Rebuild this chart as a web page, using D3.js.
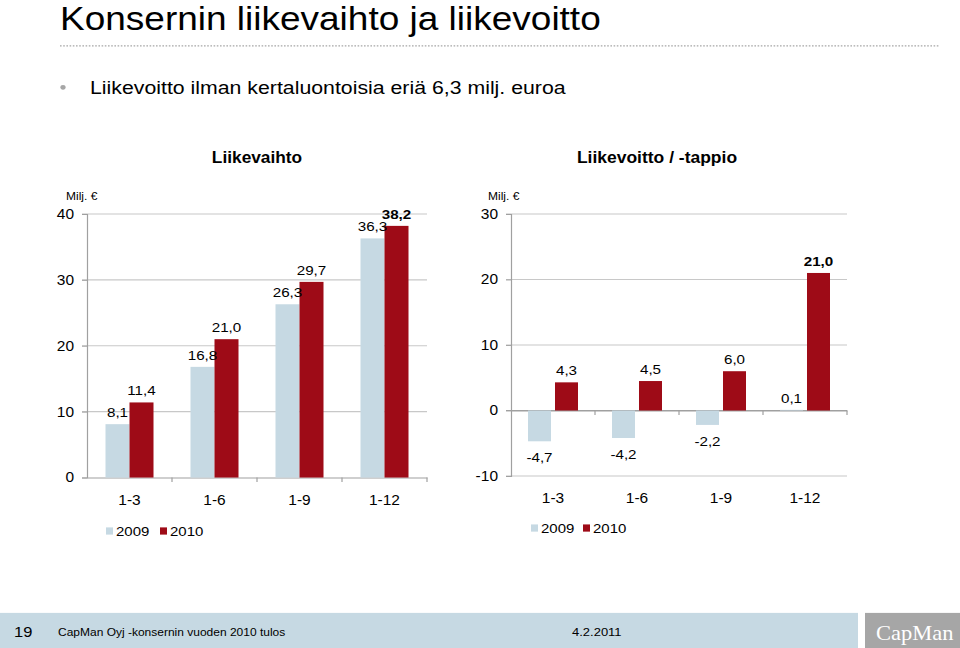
<!DOCTYPE html>
<html><head><meta charset="utf-8">
<script src="https://cdn.jsdelivr.net/npm/d3@7"></script>
<style>html,body{margin:0;padding:0;background:#fff;overflow:hidden}svg{display:block}</style>
</head><body>
<script>
const categories = ["1-3", "1-6", "1-9", "1-12"];
const seriesNames = ["2009", "2010"];
const revenue2009 = [8.1, 16.8, 26.3, 36.3];
const revenue2010 = [11.4, 21.0, 29.7, 38.2];
const ebit2009 = [-4.7, -4.2, -2.2, 0.1];
const ebit2010 = [4.3, 4.5, 6.0, 21.0];
const revenueTicks = [0, 10, 20, 30, 40];
const ebitTicks = [-10, 0, 10, 20, 30];

const C09 = "#c6d9e3", C10 = "#9e0b17";
const FONT = "'Liberation Sans', Arial, Helvetica, sans-serif";
const fmt = v => d3.format(".1f")(v).replace(".", ",").replace("\u2212", "-");

// slide is 960x720 squeezed into 960x648
const svg = d3.select("body").append("svg")
  .attr("width", 960).attr("height", 648)
  .attr("viewBox", "0 0 960 720").attr("preserveAspectRatio", "none")
  .style("font-family", FONT);

// Title
svg.append("text").attr("x", 60).attr("y", 33).attr("font-size", 37).attr("fill", "#000")
  .text("Konsernin liikevaihto ja liikevoitto");
svg.append("line").attr("x1", 60).attr("x2", 940).attr("y1", 51).attr("y2", 51)
  .attr("stroke", "#a6a6a6").attr("stroke-width", 1.6).attr("stroke-dasharray", "1.6,1.6");
svg.append("circle").attr("cx", 63).attr("cy", 97).attr("r", 2.6).attr("fill", "#a6a6a6");
svg.append("text").attr("x", 90).attr("y", 104).attr("font-size", 21.3).attr("fill", "#000")
  .text("Liikevoitto ilman kertaluontoisia eriä 6,3 milj. euroa");

// Headings
svg.append("text").attr("x", 257).attr("y", 181).attr("font-size", 17.3).attr("font-weight", "bold")
  .attr("text-anchor", "middle").text("Liikevaihto");
svg.append("text").attr("x", 657).attr("y", 181).attr("font-size", 17.5).attr("font-weight", "bold")
  .attr("text-anchor", "middle").text("Liikevoitto / -tappio");

function drawChart(o) {
  const g = svg.append("g");
  const y = d3.scaleLinear().domain(o.domain).range([o.yBottom, o.yTop]);
  const x0 = d3.scaleBand().domain(categories).range([o.xLeft, o.xRight]).padding(0);
  const step = x0.step();
  const x1 = d3.scaleBand().domain(seriesNames).range([o.groupOff, step - o.groupOff])
    .paddingInner(o.gap).paddingOuter(0);

  // gridlines
  g.append("g").selectAll("line").data(o.ticks.filter(t => t !== 0 || o.domain[0] !== 0)).join("line")
    .attr("x1", o.xLeft - 5).attr("x2", o.xRight)
    .attr("y1", d => y(d)).attr("y2", d => y(d))
    .attr("stroke", d => d === 0 ? "#a0a0a0" : "#c8c8c8").attr("stroke-width", 1.2);

  // y axis with tick labels
  const yAxis = d3.axisLeft(y).tickValues(o.ticks).tickSize(5).tickPadding(8).tickFormat(d => String(d));
  const ya = g.append("g").attr("transform", `translate(${o.xLeft},0)`).call(yAxis);
  ya.select(".domain").attr("stroke", "#a0a0a0").attr("stroke-width", 1.2);
  ya.selectAll(".tick line").attr("stroke", "#a0a0a0");
  ya.selectAll(".tick text").attr("font-size", 15.5).attr("font-family", FONT).attr("fill", "#000");

  // x axis at zero
  const xAxis = d3.axisBottom(x0).tickSize(0).tickFormat(() => "");
  const xa = g.append("g").attr("transform", `translate(0,${y(0)})`).call(xAxis);
  xa.select(".domain").attr("stroke", "#a0a0a0").attr("stroke-width", 1.2);
  // category boundary tick marks
  g.append("g").selectAll("line").data(categories.slice(1).concat(["__end"])).join("line")
    .attr("x1", d => d === "__end" ? o.xRight : x0(d)).attr("x2", d => d === "__end" ? o.xRight : x0(d))
    .attr("y1", y(0)).attr("y2", y(0) + 5).attr("stroke", "#a0a0a0").attr("stroke-width", 1.2);

  // category labels
  g.append("g").selectAll("text").data(categories).join("text")
    .attr("x", d => x0(d) + step / 2).attr("y", o.catY)
    .attr("text-anchor", "middle").attr("font-size", 15.5).text(d => d);

  // "Milj. €"
  g.append("text").attr("x", o.miljX).attr("y", 222).attr("font-size", 12).text("Milj. €");

  const rows = categories.map((c, i) => ({ c, vals: [
    { s: "2009", v: o.s09[i], color: C09, bold: false },
    { s: "2010", v: o.s10[i], color: C10, bold: i === categories.length - 1 }
  ] }));
  const grp = g.append("g").selectAll("g").data(rows).join("g")
    .attr("transform", d => `translate(${x0(d.c)},0)`);
  grp.selectAll("rect").data(d => d.vals).join("rect")
    .attr("x", d => x1(d.s)).attr("width", x1.bandwidth())
    .attr("y", d => Math.min(y(d.v), y(0)))
    .attr("height", d => Math.abs(y(d.v) - y(0)))
    .attr("fill", d => d.color);
  grp.selectAll("text").data(d => d.vals).join("text")
    .attr("x", d => x1(d.s) + x1.bandwidth() / 2)
    .attr("y", d => d.v >= 0 ? y(d.v) - 8 : y(d.v) + 23.5)
    .attr("text-anchor", "middle").attr("font-size", 15.2)
    .attr("font-weight", d => d.bold ? "bold" : "normal")
    .text(d => fmt(d.v));

  // legend
  const lg = g.append("g");
  o.legend.forEach((L, i) => {
    lg.append("rect").attr("x", L.x).attr("y", o.legY - 4).attr("width", 7).attr("height", 8)
      .attr("fill", i === 0 ? C09 : C10);
    lg.append("text").attr("x", L.x + 10).attr("y", o.legY + 6).attr("font-size", 15).text(seriesNames[i]);
  });
}

drawChart({ domain: [0, 40], ticks: revenueTicks, yBottom: 530.6, yTop: 237.8,
  xLeft: 87, xRight: 427, groupOff: 18.5, gap: 0, catY: 561, miljX: 66,
  s09: revenue2009, s10: revenue2010, legY: 590, legend: [{ x: 106 }, { x: 160 }] });
drawChart({ domain: [-10, 30], ticks: ebitTicks, yBottom: 528.9, yTop: 237.8,
  xLeft: 511, xRight: 847, groupOff: 17, gap: 0.148, catY: 559, miljX: 488,
  s09: ebit2009, s10: ebit2010, legY: 586.7, legend: [{ x: 531 }, { x: 583 }] });

// Footer
svg.append("rect").attr("x", 0).attr("y", 681).attr("width", 858).attr("height", 39).attr("fill", "#c6d9e3");
svg.append("rect").attr("x", 865).attr("y", 681).attr("width", 95).attr("height", 39).attr("fill", "#a6a6a6");
svg.append("text").attr("x", 14).attr("y", 708).attr("font-size", 16.5).text("19");
svg.append("text").attr("x", 58).attr("y", 707).attr("font-size", 12).text("CapMan Oyj -konsernin vuoden 2010 tulos");
svg.append("text").attr("x", 572).attr("y", 707).attr("font-size", 13).text("4.2.2011");
svg.append("text").attr("x", 876).attr("y", 711).attr("font-size", 22.5)
  .attr("font-family", "'Liberation Serif', 'DejaVu Serif', serif").attr("fill", "#fff")
  .text("CapMan");
</script>
</body></html>
